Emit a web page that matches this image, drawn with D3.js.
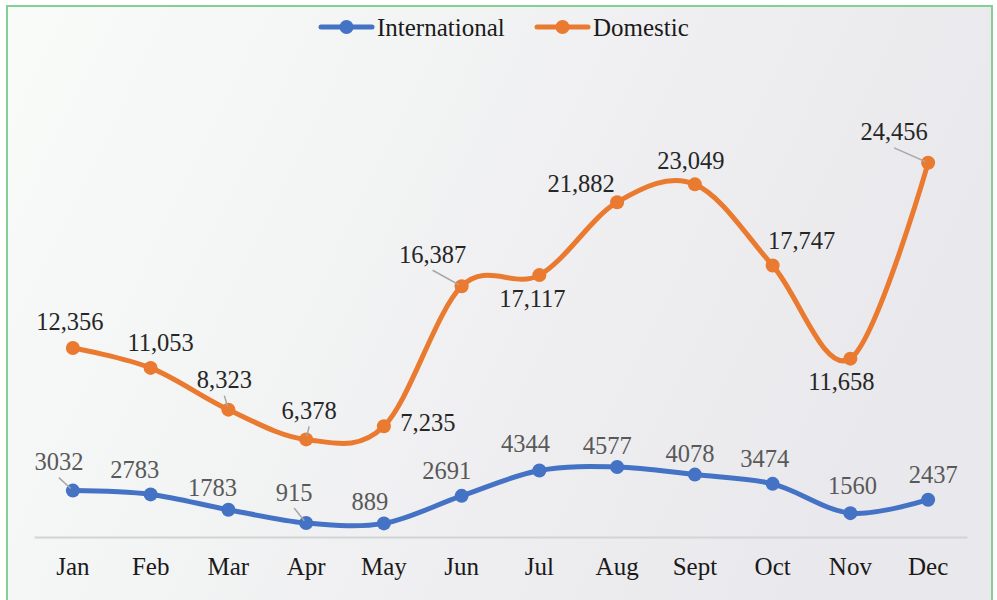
<!DOCTYPE html>
<html>
<head>
<meta charset="utf-8">
<script src="https://cdn.jsdelivr.net/npm/d3@7"></script>
<style>
  body { margin: 0; background: #fff; }
  svg { display: block; }
  text { font-family: "Liberation Serif", "Times New Roman", serif; }
</style>
</head>
<body>
<svg width="997" height="600"></svg>
<script>
// data
const months = ["Jan", "Feb", "Mar", "Apr", "May", "Jun", "Jul", "Aug", "Sept", "Oct", "Nov", "Dec"];
const international = [3032, 2783, 1783, 915, 889, 2691, 4344, 4577, 4078, 3474, 1560, 2437];
const domestic = [12356, 11053, 8323, 6378, 7235, 16387, 17117, 21882, 23049, 17747, 11658, 24456];
const seriesNames = ["International", "Domestic"];

// label placement (dx, dy from the marker, leader line flag)
const intlLabelPos = [[-14,-29,1],[-16,-25,0],[-16,-22,0],[-12,-31,1],[-14,-22,0],[-15,-25,0],
                      [-14,-27,0],[-10,-21,0],[-5,-21,0],[-8,-25,0],[2,-28,0],[5,-25,0]];
const domLabelPos = [[-3,-26,0],[10,-25,0],[-4,-30,1],[3,-29,1],[44,-4,0],[-29,-32,1],
                     [-7,23,0],[-36,-19,0],[-4,-24,0],[29,-25,0],[-9,23,0],[-34,-31,1]];

const colors = ["#4472C4", "#E97A2F"];
const labelColors = ["#595959", "#262626"];
const serif = "'Liberation Serif', 'Times New Roman', serif";

let svg = d3.select("svg");

// background
const defs = svg.append("defs");
const grad = defs.append("linearGradient").attr("id", "bg")
  .attr("x1", "0%").attr("y1", "0%").attr("x2", "100%").attr("y2", "30%");
grad.append("stop").attr("offset", "0%").attr("stop-color", "#f9fbf9");
grad.append("stop").attr("offset", "100%").attr("stop-color", "#e9e8ec");
svg.append("rect").attr("x", 7).attr("y", 6).attr("width", 985).attr("height", 610)
  .attr("fill", "url(#bg)").attr("stroke", "#82d095").attr("stroke-width", 2);

const x = d3.scaleBand().domain(months).range([34, 967]).padding(0);
const y = d3.scaleLinear().domain([0, 30000]).range([537, 78]);
const cx = m => x(m) + x.bandwidth() / 2;

// category axis
const xAxis = svg.append("g").attr("transform", "translate(0,537)")
  .call(d3.axisBottom(x).tickSize(0).tickPadding(20));
xAxis.select(".domain").attr("stroke", "#d2d3d4").attr("stroke-width", 2);
xAxis.selectAll("text").attr("font-size", 25).attr("fill", "#1a1a1a")
  .attr("font-family", serif);

const line = d3.line()
  .x((d, i) => cx(months[i]))
  .y(d => y(d))
  .curve(d3.curveCardinal.tension(0));

const fmtDom = d3.format(",");
const fmtIntl = d3.format("d");

function drawSeries(values, idx) {
  const g = svg.append("g");
  g.append("path").datum(values)
    .attr("d", line)
    .attr("fill", "none")
    .attr("stroke", colors[idx])
    .attr("stroke-width", 5)
    .attr("stroke-linecap", "round");
  g.selectAll("circle").data(values).enter().append("circle")
    .attr("cx", (d, i) => cx(months[i]))
    .attr("cy", d => y(d))
    .attr("r", 7)
    .attr("fill", colors[idx]);
}

function drawLabels(values, idx, pos, fmt) {
  const g = svg.append("g");
  values.forEach((v, i) => {
    const px = cx(months[i]), py = y(v);
    const lx = px + pos[i][0], ly = py + pos[i][1];
    if (pos[i][2]) {
      const sx = lx, sy = ly + 16;
      const ang = Math.atan2(py - sy, px - sx);
      g.append("line")
        .attr("x1", sx).attr("y1", sy)
        .attr("x2", px - Math.cos(ang) * 3).attr("y2", py - Math.sin(ang) * 3)
        .attr("stroke", "#a6a6a6").attr("stroke-width", 1.5);
    }
    g.append("text")
      .attr("x", lx).attr("y", ly + 8.5)
      .attr("text-anchor", "middle")
      .attr("font-family", serif)
      .attr("font-size", 24.5)
      .attr("fill", labelColors[idx])
      .text(fmt(v));
  });
}

drawSeries(international, 0);
drawSeries(domestic, 1);
drawLabels(international, 0, intlLabelPos, fmtIntl);
drawLabels(domestic, 1, domLabelPos, fmtDom);

// legend
const legendX = [320, 536];
const legend = svg.append("g");
seriesNames.forEach((name, i) => {
  const lg = legend.append("g").attr("transform", `translate(${legendX[i]},27)`);
  lg.append("line").attr("x1", 1).attr("x2", 52).attr("y1", 0).attr("y2", 0)
    .attr("stroke", colors[i]).attr("stroke-width", 5).attr("stroke-linecap", "round");
  lg.append("circle").attr("cx", 26.5).attr("cy", 0).attr("r", 7).attr("fill", colors[i]);
  lg.append("text").attr("x", 57).attr("y", 8.5)
    .attr("font-family", serif)
    .attr("font-size", 25).attr("fill", "#1a1a1a").text(name);
});
</script>
</body>
</html>
